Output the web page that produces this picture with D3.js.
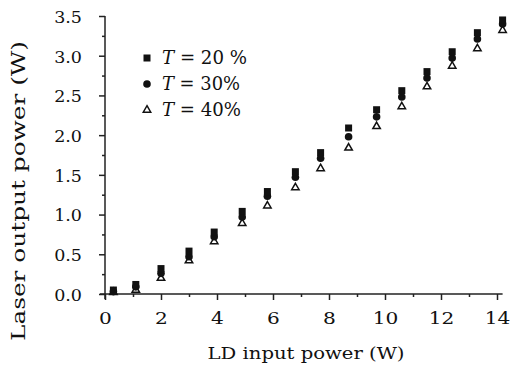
<!DOCTYPE html>
<html><head><meta charset="utf-8">
<script src="https://cdn.jsdelivr.net/npm/d3@7"></script>
<style>
html,body{margin:0;padding:0;background:#fff;}
svg{display:block;}
text{font-family:'DejaVu Serif',serif;fill:#111;}
</style></head>
<body>
<script>
const xVals = [0.3,1.1,2.0,3.0,3.9,4.9,5.8,6.8,7.7,8.7,9.7,10.6,11.5,12.4,13.3,14.2];
const t20 = [0.05,0.12,0.32,0.54,0.78,1.04,1.29,1.54,1.78,2.09,2.32,2.56,2.80,3.05,3.29,3.45];
const t30 = [0.03,0.09,0.26,0.47,0.72,0.97,1.23,1.47,1.71,1.98,2.23,2.48,2.72,2.97,3.21,3.40];
const t40 = [0.02,0.05,0.20,0.42,0.66,0.89,1.11,1.34,1.58,1.84,2.11,2.36,2.61,2.87,3.09,3.32];
const xTicks = [0,2,4,6,8,10,12,14];
const yTicks = [0.0,0.5,1.0,1.5,2.0,2.5,3.0,3.5];
const legendLabels = ["20 %","30%","40%"];
const xTitle = "LD input power (W)";
const yTitle = "Laser output power (W)";

const W=511,H=376;
const svg=d3.select("body").append("svg").attr("width",W).attr("height",H);
const x=d3.scaleLinear().domain([0,14]).range([105,497]);
const y=d3.scaleLinear().domain([0,3.5]).range([294,16]);
const ink="#222";

// x axis
const gx=svg.append("g").attr("transform",`translate(0,${y(0)})`);
gx.call(d3.axisBottom(x).tickValues(d3.range(0,15,1)).tickSize(3).tickFormat(""));
gx.call(g=>g.selectAll(".tick line").attr("y2",d=>d%2===0?6:3));
gx.select(".domain").remove();
gx.selectAll(".tick line").attr("stroke",ink).attr("stroke-width",1.5);
const gxl=svg.append("g").attr("transform",`translate(0,${y(0)})`)
  .call(d3.axisBottom(x).tickValues(xTicks).tickSize(0).tickPadding(0).tickFormat(d3.format("d")));
gxl.select(".domain").remove();
gxl.selectAll("text").attr("y",30).attr("dy",null).style("font-size","17.5px").attr("fill","#111")
  .attr("transform","scale(1.15,1)");
svg.append("line").attr("x1",x(-0.18)).attr("x2",x(14.2)).attr("y1",y(0)).attr("y2",y(0))
  .attr("stroke",ink).attr("stroke-width",1.5);

// y axis
const gy=svg.append("g").attr("transform",`translate(${x(0)},0)`);
gy.call(d3.axisLeft(y).tickValues(d3.range(0,3.51,0.25)).tickSize(3).tickFormat(""));
gy.selectAll(".tick line").attr("x2",(d,i)=>i%2===0?-6:-3).attr("stroke",ink).attr("stroke-width",1.5);
gy.select(".domain").remove();
const gyl=svg.append("g").attr("transform",`translate(${x(0)},0)`)
  .call(d3.axisLeft(y).tickValues(yTicks).tickSize(0).tickPadding(23).tickFormat(d3.format(".1f")));
gyl.select(".domain").remove();
gyl.selectAll("text").style("font-size","17.5px").attr("fill","#111").attr("dy","0.36em");
svg.append("line").attr("x1",x(0)).attr("x2",x(0)).attr("y1",y(3.5)).attr("y2",y(0)+5)
  .attr("stroke",ink).attr("stroke-width",1.5);

// titles
svg.append("text").attr("x",306).attr("y",359).attr("text-anchor","middle")
  .style("font-size","17.5px").attr("textLength",197).attr("lengthAdjust","spacingAndGlyphs").text(xTitle);
svg.append("text").attr("transform","translate(25,191) rotate(-90)").attr("text-anchor","middle")
  .style("font-size","18px").attr("textLength",300).attr("lengthAdjust","spacingAndGlyphs").text(yTitle);

// markers
const tri=d3.symbol().type(d3.symbolTriangle).size(24);
svg.append("g").selectAll("path").data(xVals.map((v,i)=>[v,t40[i]])).join("path")
  .attr("d",tri).attr("transform",d=>`translate(${x(d[0])},${y(d[1])})`)
  .attr("fill","#fff").attr("stroke","#111").attr("stroke-width",1.5);
svg.append("g").selectAll("circle").data(xVals.map((v,i)=>[v,t30[i]])).join("circle")
  .attr("cx",d=>x(d[0])).attr("cy",d=>y(d[1])).attr("r",3.8).attr("fill","#111");
svg.append("g").selectAll("rect").data(xVals.map((v,i)=>[v,t20[i]])).join("rect")
  .attr("x",d=>x(d[0])-3.5).attr("y",d=>y(d[1])-3.5).attr("width",7).attr("height",7).attr("fill","#111");

// legend
const ly=[58,84,110], lx=147, lw=[85,78,79];
svg.append("rect").attr("x",lx-3.5).attr("y",ly[0]-3.5).attr("width",7).attr("height",7).attr("fill","#111");
svg.append("circle").attr("cx",lx).attr("cy",ly[1]).attr("r",3.8).attr("fill","#111");
svg.append("path").attr("d",tri).attr("transform",`translate(${lx},${ly[2]})`)
  .attr("fill","#fff").attr("stroke","#111").attr("stroke-width",1.5);
legendLabels.forEach((l,i)=>{
  const t=svg.append("text").attr("x",162).attr("y",ly[i]+6).style("font-size","18px")
    .attr("textLength",lw[i]).attr("lengthAdjust","spacingAndGlyphs");
  t.append("tspan").attr("font-style","italic").text("T");
  t.append("tspan").text(" = "+l);
});
</script>
</body></html>
